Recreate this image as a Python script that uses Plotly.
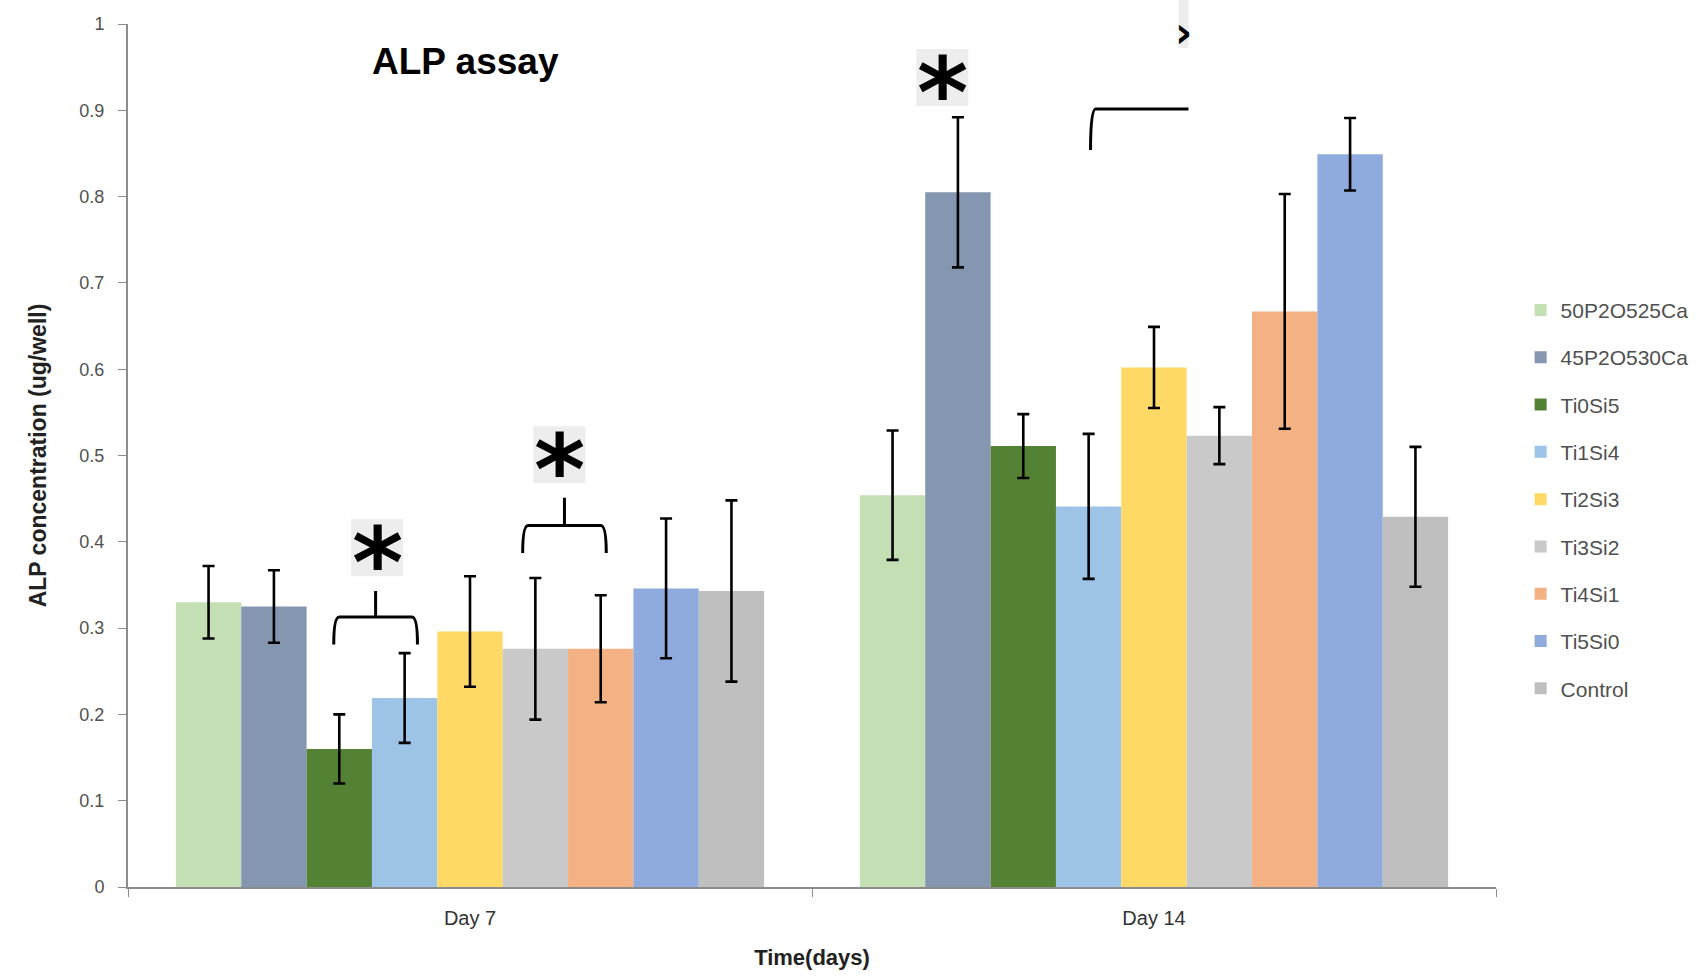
import plotly.graph_objects as go

days = ["Day 7", "Day 14"]
series = ["50P2O525Ca", "45P2O530Ca", "Ti0Si5", "Ti1Si4", "Ti2Si3", "Ti3Si2", "Ti4Si1", "Ti5Si0", "Control"]
colors = ["#C5DFB4", "#8496B0", "#548235", "#9DC3E6", "#FFD966", "#C9C9C9", "#F4B183", "#8FAADC", "#BFBFBF"]

day7 = [0.330, 0.325, 0.160, 0.219, 0.296, 0.276, 0.276, 0.346, 0.343]
day14 = [0.454, 0.805, 0.511, 0.441, 0.602, 0.523, 0.667, 0.849, 0.429]
err7 = [0.042, 0.042, 0.040, 0.052, 0.064, 0.082, 0.062, 0.081, 0.105]
err14 = [0.075, 0.087, 0.037, 0.084, 0.047, 0.033, 0.136, 0.042, 0.081]

y_ticks = [0, 0.1, 0.2, 0.3, 0.4, 0.5, 0.6, 0.7, 0.8, 0.9, 1]
y_labels = ["0", "0.1", "0.2", "0.3", "0.4", "0.5", "0.6", "0.7", "0.8", "0.9", "1"]

# significance marks: (paper x centre, data y centre)
stars = [(0.1821, 0.393), (0.3153, 0.501), (0.5953, 0.938)]

fig = go.Figure()
for i, name in enumerate(series):
    fig.add_trace(go.Bar(
        x=days, y=[day7[i], day14[i]], name=name,
        marker=dict(color=colors[i], line=dict(width=0)),
        error_y=dict(type="data", array=[err7[i], err14[i]], color="black", thickness=2.6, width=6),
        legendgroup=name,
    ))

def bracket(x0, x1, y, ytail, ystem):
    xm = (x0 + x1) / 2
    path = (f"M {x0},{ytail} Q {x0},{y} {x0+0.004},{y} L {x1-0.004},{y} Q {x1},{y} {x1},{ytail} "
            f"M {xm},{y} L {xm},{ystem}")
    fig.add_shape(type="path", path=path, xref="paper", yref="y",
                  line=dict(color="black", width=3))

bracket(0.1504, 0.2116, 0.313, 0.281, 0.343)
bracket(0.2885, 0.3496, 0.419, 0.387, 0.451)
fig.add_shape(type="path", path="M 0.7036,0.854 Q 0.7036,0.9015 0.7073,0.9015 L 0.7752,0.9015",
              xref="paper", yref="y", line=dict(color="black", width=3))

bw, bh = 0.0380, 0.066
for (xp, yv) in stars:
    fig.add_shape(type="rect", xref="paper", yref="y", x0=xp - bw / 2, x1=xp + bw / 2,
                  y0=yv - bh / 2, y1=yv + bh / 2, fillcolor="#EDEDED", line=dict(width=0), layer="below")
    fig.add_annotation(x=xp, y=yv, xref="paper", yref="y", text="<b>*</b>", showarrow=False,
                       xanchor="center", yanchor="middle",
                       font=dict(size=98, color="black", family="DejaVu Sans"), yshift=-15)

# partial mark at the top edge
fig.add_shape(type="rect", xref="paper", yref="paper", x0=0.7680, x1=0.7752, y0=0.972, y1=1.03,
              fillcolor="#EDEDED", line=dict(width=0), layer="below")
fig.add_annotation(x=0.7718, y=0.990, xref="paper", yref="paper", text="<b>›</b>", showarrow=False,
                   xanchor="center", yanchor="middle",
                   font=dict(size=42, color="black", family="DejaVu Sans"))

fig.add_annotation(x=0.2465, y=0.956, xref="paper", yref="y", text="<b>ALP assay</b>", showarrow=False,
                   xanchor="center", yanchor="middle",
                   font=dict(size=37, color="black", family="Liberation Sans, Arial"))

fig.update_layout(
    width=1706, height=977,
    margin=dict(l=128, r=208, t=24, b=90),
    plot_bgcolor="white", paper_bgcolor="white",
    barmode="group", bargap=0.14, bargroupgap=0,
    font=dict(family="Liberation Sans, Arial", color="#444"),
    showlegend=True,
    legend=dict(x=1.018, y=0.692, xanchor="left", yanchor="top", tracegroupgap=17,
                font=dict(size=21, color="#505050"), itemwidth=30, traceorder="grouped"),
    xaxis=dict(showline=True, linecolor="#8C8C8C", linewidth=2, ticks="outside", tickson="boundaries",
               ticklen=8, tickcolor="#8C8C8C", tickfont=dict(size=20, color="#333"), ticklabelstandoff=12,
               title=dict(text="<b>Time(days)</b>", font=dict(size=22, color="#222"), standoff=22)),
    yaxis=dict(range=[0, 1], tickvals=y_ticks, ticktext=y_labels, showgrid=False, zeroline=False,
               showline=True, linecolor="#8C8C8C", linewidth=2, ticks="outside", ticklen=8,
               tickcolor="#8C8C8C", tickfont=dict(size=18, color="#505050"), ticklabelstandoff=10,
               title=dict(text="<b>ALP concentration (ug/well)</b>", font=dict(size=23, color="#222"), standoff=26)),
)

fig.write_html("out.html")
